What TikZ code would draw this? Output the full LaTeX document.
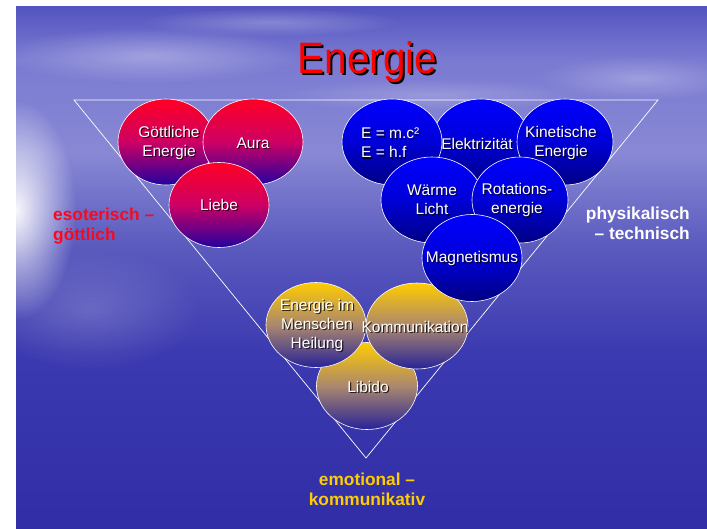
\documentclass[tikz,border=0pt]{standalone}
\usepackage{fontspec}
\setmainfont{Liberation Sans}
\usepackage{graphicx}
\usetikzlibrary{shapes.geometric,fadings}
\definecolor{bgtop}{RGB}{84,84,192}
\definecolor{bgcloud}{RGB}{122,122,210}
\definecolor{bglav}{RGB}{136,136,213}
\definecolor{bgmid}{RGB}{90,90,190}
\definecolor{bglow}{RGB}{60,58,176}
\definecolor{bgbot}{RGB}{48,45,166}
\pgfdeclareverticalshading{bgsh}{100bp}{color(0bp)=(bgbot); color(25bp)=(bgbot); color(42bp)=(bglow); color(52bp)=(bgmid); color(61bp)=(bglav); color(70bp)=(bgcloud); color(75bp)=(bgtop); color(100bp)=(bgtop)}
\tikzfading[name=softc, inner color=transparent!0, outer color=transparent!100]
\definecolor{rtop}{RGB}{255,0,36}
\definecolor{rmid}{RGB}{205,0,100}
\definecolor{rbot}{RGB}{35,0,160}
\definecolor{btop}{RGB}{0,0,255}
\definecolor{bmid}{RGB}{0,0,215}
\definecolor{bbot}{RGB}{0,0,130}
\definecolor{ytop}{RGB}{255,204,0}
\definecolor{ymid}{RGB}{170,135,110}
\definecolor{ybot}{RGB}{40,35,152}
\definecolor{lblred}{RGB}{250,8,30}
\definecolor{lblgold}{RGB}{255,204,0}
\tikzset{
  bubble/.style={ellipse, draw=white, line width=0.6pt, inner sep=0pt, minimum width=100pt, minimum height=86pt},
  redb/.style={bubble, top color=rtop, bottom color=rbot, middle color=rmid},
  blueb/.style={bubble, top color=btop, bottom color=bbot, middle color=bmid},
  yelb/.style={bubble, top color=ytop, bottom color=ybot, middle color=ymid},
  txt/.style={font=\fontsize{15.5}{19}\selectfont, inner sep=0pt, align=center},
  side/.style={font=\fontsize{17.3}{20}\selectfont\bfseries, inner sep=0pt},
}
\newcommand\shtext[4][]{%
  \node[txt,#1,text=black,opacity=0.75] (#2s) at ([shift={(1.2,1.2)}]#3) {#4};
  \node[txt,#1,text=white] (#2) at (#3) {#4};}
\begin{document}
\begin{tikzpicture}[x=1pt,y=-1pt]
\useasboundingbox (0,0) rectangle (707,529);
\fill[white] (0,0) rectangle (707,529);
\shade[shading=bgsh] (16,7) rectangle (707,529);
\begin{scope}
  \clip (16,7) rectangle (707,529);
  \fill[white, path fading=softc, opacity=0.95] (16,210) ellipse [x radius=60, y radius=110];
  \fill[white, path fading=softc, opacity=0.30] (150,55) ellipse [x radius=150, y radius=28];
  \fill[white, path fading=softc, opacity=0.25] (270,22) ellipse [x radius=130, y radius=14];
  \fill[white, path fading=softc, opacity=0.25] (640,78) ellipse [x radius=100, y radius=22];
  \fill[white, path fading=softc, opacity=0.20] (430,95) ellipse [x radius=160, y radius=16];
  \fill[white, path fading=softc, opacity=0.18] (90,310) ellipse [x radius=110, y radius=60];
\end{scope}
% title
\node[font=\fontsize{44}{44}\selectfont, text=red, inner sep=0pt, anchor=base] (title) at (367.5,73.5)
  {\scalebox{0.92}[1]{\rlap{\kern2.4pt\raisebox{-2.3pt}{\color{black}Energie}}\color{red}Energie}};
% triangle
\coordinate (tl) at (74,100);
\coordinate (tr) at (658,100);
\coordinate (ap) at (366,458);
\draw[white, line width=0.7pt] (tl) -- (tr) -- (ap) -- cycle;
% yellow group
\node[yelb, minimum width=101pt, minimum height=87pt] (lib) at (367,386) {};
\node[yelb, minimum width=100pt, minimum height=85pt] (emen) at (316,325) {};
\node[yelb, minimum width=102pt, minimum height=86pt] (komm) at (417,326) {};
% red group
\node[redb, minimum width=96pt] (gott) at (166,142) {};
\node[redb] (aura) at (253,142) {};
\node[redb, minimum height=85pt] (liebe) at (219,205) {};
% blue group
\node[blueb, minimum width=98pt] (elek) at (481,142) {};
\node[blueb] (emc) at (392,142) {};
\node[blueb, minimum width=96pt] (kin) at (565,142) {};
\node[blueb, minimum width=102pt] (warm) at (432,200) {};
\node[blueb, minimum width=96pt] (rot) at (520,200) {};
\node[blueb, minimum height=87pt] (mag) at (472,258) {};
% texts
\shtext{tgott}{169,143}{Göttliche\\Energie}
\shtext{taura}{253,143}{Aura}
\shtext{tliebe}{219,205}{Liebe}
\shtext[anchor=west,align=left]{temc}{361,143}{E = m.c²\\E = h.f}
\shtext{telek}{477,144}{Elektrizität}
\shtext{tkin}{561,143}{Kinetische\\Energie}
\shtext{twarm}{432,200}{Wärme\\Licht}
\shtext{trot}{517,200}{Rotations-\\energie}
\shtext{tmag}{472,258}{Magnetismus}
\shtext{temen}{317,325}{Energie im\\Menschen\\Heilung}
\shtext{tkomm}{415,327}{Kommunikation}
\shtext{tlib}{368,387}{Libido}
% side labels
\node[side, text=lblred, anchor=base west] (eso1) at (53,221) {esoterisch –};
\node[side, text=lblred, anchor=base west] (eso2) at (53,241) {göttlich};
\node[side, text=white, anchor=base east] (phy1) at (690,220) {physikalisch};
\node[side, text=white, anchor=base east] (phy2) at (690,240) {– technisch};
\node[side, text=lblgold, anchor=base] (emo1) at (367,485) {emotional –};
\node[side, text=lblgold, anchor=base] (emo2) at (367,505) {kommunikativ};
\end{tikzpicture}
\end{document}
